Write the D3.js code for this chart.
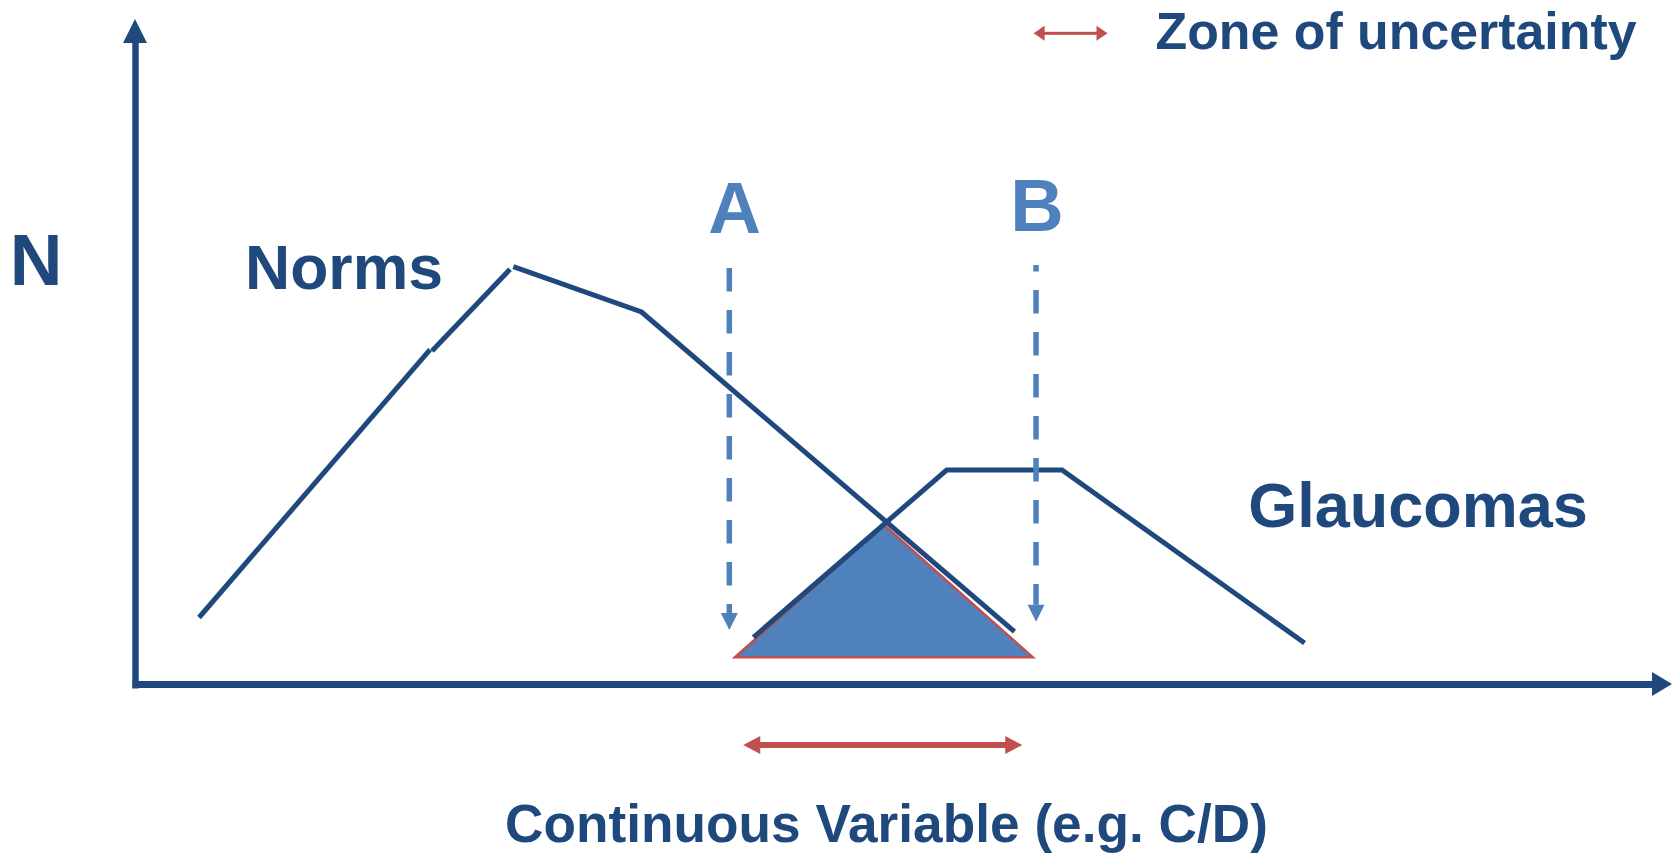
<!DOCTYPE html>
<html>
<head>
<meta charset="utf-8">
<script src="https://cdn.jsdelivr.net/npm/d3@7"></script>
<style>
  html, body { margin: 0; padding: 0; background: #ffffff; }
  svg { display: block; }
  text { font-family: "Liberation Sans", Arial, Helvetica, sans-serif; font-weight: bold; }
</style>
</head>
<body>
<svg id="chart" width="1674" height="856"></svg>
<script>
// ---------- data (conceptual units, x: 0..100, y: 0..100) ----------
const normsSegments = [
  [[4.27, 10.23], [19.67, 51.46]],
  [[19.80, 51.23], [25.00, 63.80]],
  [[25.22, 64.20], [33.77, 57.23], [58.63, 8.05]]
];
const glaucomas = [[41.23, 7.18], [54.11, 32.92], [61.80, 32.92], [77.97, 6.31]];
const overlapTriangle = [[40.00, 4.11], [49.93, 24.46], [59.85, 4.11]];
const cutoffLabels = ["A", "B"];
const cutoffX = [39.62, 60.07];
const cutoffTop = [64.00, 64.46];
const cutoffTip = [8.31, 9.58];
const zoneRange = [40.55, 59.15];
const seriesLabels = ["Norms", "Glaucomas"];
const yAxisLabel = "N";
const xAxisLabel = "Continuous Variable (e.g. C/D)";
const legendLabel = "Zone of uncertainty";

// ---------- styles ----------
const DARK = "#1F497D", LIGHT = "#4F81BD", RED = "#C0504D";

const svg = d3.select("#chart");
const xScale = d3.scaleLinear().domain([0, 100]).range([135, 1635]);
const yScale = d3.scaleLinear().domain([0, 100]).range([684, 34]);
const line = d3.line().x(d => xScale(d[0])).y(d => yScale(d[1]));

// ---------- axes ----------
const xAxisScale = xScale.copy().domain([xScale.invert(132), xScale.invert(1655)]).range([132, 1655]);
const yAxisScale = yScale.copy().domain([yScale.invert(688), yScale.invert(41)]).range([688, 41]);

const gx = svg.append("g").attr("transform", "translate(0," + yScale(0) + ")")
  .call(d3.axisBottom(xAxisScale).tickValues([]).tickSizeOuter(0));
gx.select(".domain").attr("stroke", DARK).attr("stroke-width", 7);

const gy = svg.append("g").attr("transform", "translate(" + xScale(0) + ",0)")
  .call(d3.axisLeft(yAxisScale).tickValues([]).tickSizeOuter(0));
gy.select(".domain").attr("stroke", DARK).attr("stroke-width", 6.5);

// axis arrowheads
const x0 = xScale(0), y0 = yScale(0);
svg.append("path").attr("fill", DARK)
  .attr("d", `M1672,${y0} L1652,${y0 - 12} L1652,${y0 + 12} Z`);
svg.append("path").attr("fill", DARK)
  .attr("d", `M${x0},19 L${x0 - 12},43 L${x0 + 12},43 Z`);

// ---------- overlap triangle ----------
svg.append("path").datum(overlapTriangle)
  .attr("d", d => line(d) + "Z")
  .attr("fill", LIGHT).attr("stroke", RED).attr("stroke-width", 2.5)
  .attr("stroke-linejoin", "miter");

// ---------- curves ----------
svg.selectAll("path.norms").data(normsSegments).join("path")
  .attr("class", "norms")
  .attr("d", line).attr("fill", "none").attr("stroke", DARK)
  .attr("stroke-width", 5).attr("stroke-linejoin", "miter").attr("stroke-linecap", "butt");

svg.append("path").datum(glaucomas)
  .attr("d", line).attr("fill", "none").attr("stroke", DARK)
  .attr("stroke-width", 5).attr("stroke-linejoin", "miter").attr("stroke-linecap", "butt");

// ---------- cutoff dashed arrows ----------
const headLen = 17, headHalf = 8.5;
const dashOffsets = [0, 17];
cutoffLabels.forEach((lab, i) => {
  const x = xScale(cutoffX[i]);
  const top = yScale(cutoffTop[i]);
  const tip = yScale(cutoffTip[i]);
  svg.append("line")
    .attr("x1", x).attr("x2", x).attr("y1", top).attr("y2", tip - headLen)
    .attr("stroke", LIGHT).attr("stroke-width", 5.5)
    .attr("stroke-dasharray", "23.5,18.5").attr("stroke-dashoffset", dashOffsets[i]);
  svg.append("path").attr("fill", LIGHT)
    .attr("d", `M${x},${tip} L${x - headHalf},${tip - headLen} L${x + headHalf},${tip - headLen} Z`);
});

// cutoff labels
const cutoffLabelPos = [[734.6, 233, 73], [1037, 230.7, 74]];
svg.selectAll("text.cutoff").data(cutoffLabels).join("text")
  .attr("class", "cutoff")
  .attr("x", (d, i) => cutoffLabelPos[i][0]).attr("y", (d, i) => cutoffLabelPos[i][1])
  .attr("font-size", (d, i) => cutoffLabelPos[i][2])
  .attr("text-anchor", "middle").attr("fill", LIGHT).text(d => d);

// ---------- double arrows ----------
function doubleArrow(xa, xb, y, head, half, shaft) {
  const g = svg.append("g").attr("fill", RED);
  g.append("rect").attr("x", xa + head - 1).attr("y", y - shaft / 2)
    .attr("width", xb - xa - 2 * head + 2).attr("height", shaft);
  g.append("path").attr("d", `M${xa},${y} L${xa + head},${y - half} L${xa + head},${y + half} Z`);
  g.append("path").attr("d", `M${xb},${y} L${xb - head},${y - half} L${xb - head},${y + half} Z`);
}
// zone of uncertainty below axis
doubleArrow(xScale(zoneRange[0]), xScale(zoneRange[1]), 745, 17, 9, 6);
// legend arrow
doubleArrow(1033.6, 1107.5, 33.3, 11, 7.5, 3);

// ---------- texts ----------
svg.append("text").attr("x", 36).attr("y", 285).attr("font-size", 73)
  .attr("text-anchor", "middle").attr("fill", DARK).text(yAxisLabel);

svg.append("text").attr("x", 344).attr("y", 289).attr("font-size", 63)
  .attr("text-anchor", "middle").attr("fill", DARK)
  .attr("textLength", 198).attr("lengthAdjust", "spacingAndGlyphs").text(seriesLabels[0]);

svg.append("text").attr("x", 1418).attr("y", 526.7).attr("font-size", 63)
  .attr("text-anchor", "middle").attr("fill", DARK).text(seriesLabels[1]);

svg.append("text").attr("x", 1396).attr("y", 49).attr("font-size", 52)
  .attr("text-anchor", "middle").attr("fill", DARK)
  .attr("textLength", 481).attr("lengthAdjust", "spacingAndGlyphs").text(legendLabel);

svg.append("text").attr("x", 886.5).attr("y", 841.7).attr("font-size", 53)
  .attr("text-anchor", "middle").attr("fill", DARK)
  .attr("textLength", 763).attr("lengthAdjust", "spacingAndGlyphs").text(xAxisLabel);
</script>
</body>
</html>
